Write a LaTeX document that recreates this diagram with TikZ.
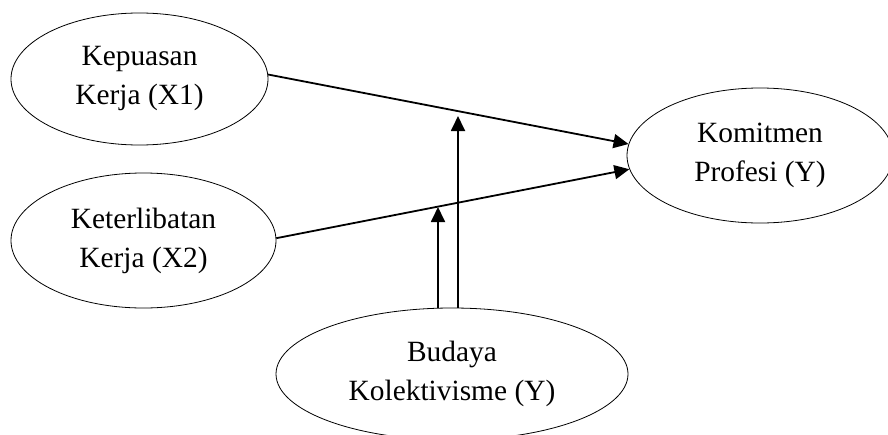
\documentclass[tikz,border=0pt]{standalone}
\usepackage{fontspec}
\setmainfont{Liberation Serif}
\usetikzlibrary{shapes.geometric,arrows.meta}
\tikzset{
  var/.style={ellipse, draw, line width=0.8pt, inner sep=0pt, align=center,
    font=\fontsize{29.4}{39}\selectfont},
  link/.style={line width=1.8pt, -{Triangle[length=15pt,width=14pt]}}
}
\begin{document}
\begin{tikzpicture}[x=1pt,y=-1pt]
\useasboundingbox (0,0) rectangle (888,434);
\clip (0,0) rectangle (888,434);
\node[var, minimum width=257pt, minimum height=132pt] (x1) at (139.5,79) {Kepuasan\\Kerja (X1)};
\node[var, minimum width=265pt, minimum height=135pt] (x2) at (143.5,240.5) {Keterlibatan\\Kerja (X2)};
\node[var, minimum width=266pt, minimum height=135pt] (y) at (760,155.5) {Komitmen\\Profesi (Y)};
\node[var, minimum width=352pt, minimum height=132pt] (z) at (452,374) {Budaya\\Kolektivisme (Y)};
\draw[link] (x1.2) -- (y.175);
\draw[link] (x2.1) -- (y.186);
\coordinate (m1) at (458,116);
\coordinate (m2) at (438,207);
\draw[link] (m1 |- z.north) -- (m1);
\draw[link] (m2 |- z.north) -- (m2);
\end{tikzpicture}
\end{document}
